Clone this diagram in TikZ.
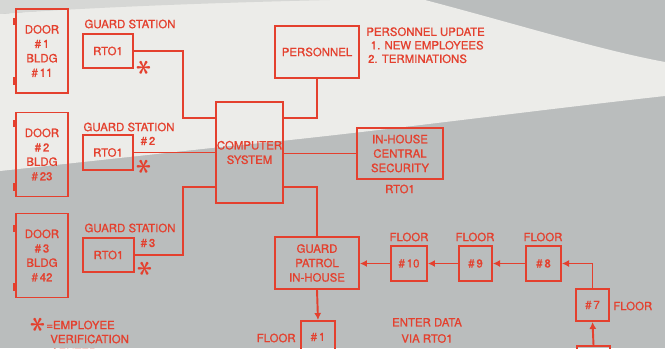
\documentclass[tikz,border=0pt]{standalone}
\usepackage{fontspec}
\setmainfont{TeX Gyre Heros}[FakeBold=0.9]
\usetikzlibrary{positioning,arrows.meta}
\definecolor{plotred}{RGB}{228,64,46}
\definecolor{bggrey}{RGB}{186,189,189}
\definecolor{bglight}{RGB}{236,236,233}
\definecolor{bgtop}{RGB}{214,215,213}
\newcommand{\lettering}{\fontsize{6.5}{8.2}\selectfont}
\tikzset{
  boxnode/.style={draw=plotred, line width=1.1pt, inner sep=0pt, align=center,
                  font=\lettering, text=plotred},
  lbl/.style={text=plotred, font=\lettering, inner sep=0pt, align=center},
  wire/.style={draw=plotred, line width=1.1pt},
  feed/.style={wire, -{Latex[length=4pt,width=4pt]}},
  empmark/.style={text=plotred, rotate=90, inner sep=0pt, font=\LARGE\boldmath},
  hinge/.style={draw=plotred, line width=1.4pt},
}
\newcommand{\doorbox}[4]{%
  \node[boxnode, minimum width=1.04cm, minimum height=1.68cm] (#1) at (42,#2)
       {DOOR\\\#\,#3\\BLDG\\\#\,#4};}
\newcommand{\hinges}[2]{%
  \draw[hinge] (14.6,#1) -- (14.6,#1+7);
  \draw[hinge] (14.6,#2) -- (14.6,#2+8);}

\begin{document}
\begin{tikzpicture}[x=0.02cm, y=-0.02cm]
    \useasboundingbox (0,0) rectangle (665,348);

      % photo background
      \fill[bggrey] (0,0) rectangle (665,348);
      \fill[bglight] (0,14) .. controls (150,2) and (300,-2) .. (425,0)
        .. controls (520,25) and (600,50) .. (665,62) -- (665,96)
        .. controls (520,112) and (350,135) .. (230,146) -- (0,171) -- cycle;
      \fill[bgtop] (0,0) -- (330,0) .. controls (200,3) and (80,8) .. (0,14) -- cycle;

      % doors
      \doorbox{door1}{51}{1}{11}
      \doorbox{door2}{154.5}{2}{23}
      \doorbox{door3}{255.5}{3}{42}
      \hinges{18}{77}
      \hinges{120}{183}
      \hinges{225}{283}

      % guard stations
      \node[lbl] (gs1) at (130,24) {GUARD STATION};
      \node[lbl] (gs2) at (129,127) {GUARD STATION};
      \node[lbl] (gs3) at (130,228) {GUARD STATION};
      \node[boxnode, minimum width=1cm, minimum height=0.68cm] (rto1a) at (108,51) {RTO1};
      \node[boxnode, minimum width=1cm, minimum height=0.7cm] (rto1b) at (108,152.5) {RTO1};
      \node[boxnode, minimum width=1.02cm, minimum height=0.68cm] (rto1c) at (108.5,255) {RTO1};
      \node[lbl] (gsno2) at (148,141) {\#\,2};
      \node[lbl] (gsno3) at (148,243) {\#\,3};
      \node[empmark] (ast1) at (144,68) {$\ast$};
      \node[empmark] (ast2) at (144,167) {$\ast$};
      \node[empmark] (ast3) at (145,269) {$\ast$};

      % centre
      \node[boxnode, minimum width=1.34cm, minimum height=2.02cm] (comp) at (249.5,152.5)
           {COMPUTER\\SYSTEM};
      \node[boxnode, minimum width=1.68cm, minimum height=1.04cm] (pers) at (317,52) {PERSONNEL};
      \node[lbl, anchor=north west, align=left] (update) at (366,27)
           {PERSONNEL UPDATE\\[-0.5pt]\hspace{2.5pt}1. NEW EMPLOYEES\\[-0.5pt]\hspace{1pt}2. TERMINATIONS};
      \node[boxnode, minimum width=1.72cm, minimum height=1.02cm] (secur) at (400,153.5)
           {IN-HOUSE\\CENTRAL\\SECURITY};
      \node[lbl] (securrt) at (400,189) {RTO1};

      % patrol and floors
      \node[boxnode, minimum width=1.68cm, minimum height=1.04cm] (patrol) at (317,263)
           {GUARD\\PATROL\\IN-HOUSE};
      \node[boxnode, minimum width=0.72cm, minimum height=0.7cm] (fl10) at (409,263.5) {\#\,10};
      \node[boxnode, minimum width=0.66cm, minimum height=0.7cm] (fl9) at (475.5,263.5) {\#\,9};
      \node[boxnode, minimum width=0.7cm, minimum height=0.7cm] (fl8) at (543.5,263.5) {\#\,8};
      \node[boxnode, minimum width=0.66cm, minimum height=0.64cm] (fl7) at (592.5,305) {\#\,7};
      \node[boxnode, minimum width=0.68cm, minimum height=0.64cm] (fl1) at (318,337) {\#\,1};
      \node[boxnode, minimum width=0.66cm, minimum height=0.64cm] (fl6) at (593.5,362) {};
      \node[lbl] (fl10t) at (409,237) {FLOOR};
      \node[lbl] (fl9t) at (475,237) {FLOOR};
      \node[lbl] (fl8t) at (543,237) {FLOOR};
      \node[lbl, anchor=west] (fl7t) at (613,306) {FLOOR};
      \node[lbl, anchor=east] (fl1t) at (296,338) {FLOOR};
      \node[lbl] (enter) at (427,330.5) {ENTER DATA\\[1pt]VIA RTO1};

      % legend
      \node[empmark] (astkey) at (38,325) {$\ast$};
      \node[lbl, anchor=west] (key1) at (46,325) {=EMPLOYEE};
      \node[lbl, anchor=west] (key2) at (50,339) {VERIFICATION};
      \node[lbl, anchor=west] (key3) at (50,353) {CENTER};

      % connectors
      \coordinate (ja) at (183,118);
      \coordinate (jc) at (183,187);
      \coordinate (jp) at (317,118);
      \coordinate (jg) at (317,187);
      \draw[wire] (rto1a.east) -| (ja) -- (ja -| comp.west);
      \draw[wire] (rto1b.east) -- (rto1b.east -| comp.west);
      \draw[wire] (rto1c.east) -| (jc) -- (jc -| comp.west);
      \draw[wire] (pers.south) -- (jp) -- (jp -| comp.east);
      \draw[wire] (comp.east |- secur.west) -- (secur.west);
      \draw[wire] (jg -| comp.east) -- (jg) -- (patrol.north);

      \draw[feed] (patrol.south) -- (fl1.north);
      \draw[feed] (fl10.west) -- (patrol.east |- fl10.west);
      \draw[feed] (fl9.west) -- (fl10.east);
      \draw[feed] (fl8.west) -- (fl9.east);
      \draw[feed] (fl7.north) |- (fl8.east);
      \draw[feed] (fl6.north) -- (fl7.south);

    \end{tikzpicture}
\end{document}
